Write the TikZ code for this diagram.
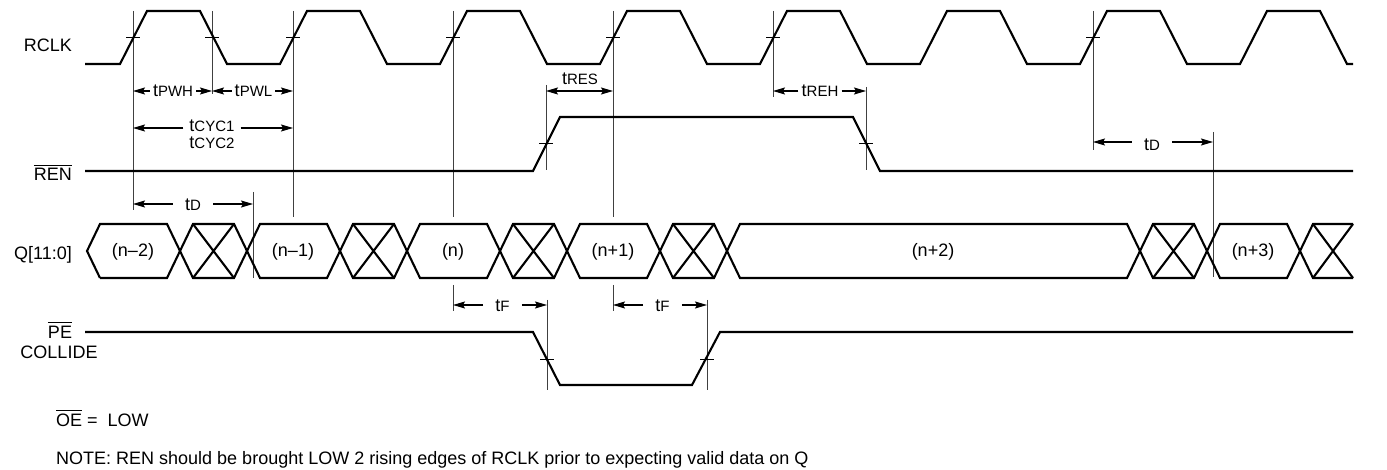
\documentclass[tikz,border=0pt]{standalone}
\usepackage{fontspec}
\setmainfont{Liberation Sans}
\usetikzlibrary{arrows.meta}
\newcommand\ovl[1]{\vbox{\hrule height 0.9pt\kern3pt\hbox{#1}}}
\newcommand\sbs[1]{{\fontsize{15}{15}\selectfont #1}}
\begin{document}
\begin{tikzpicture}[x=1pt,y=-1pt,
  sig/.style={line width=2.1pt,line join=miter},
  guide/.style={line width=0.9pt,black!75},
  tick/.style={line width=1pt},
  dimarrow/.style={line width=1.1pt,-{Stealth[length=12pt,width=7pt,inset=2pt]}},
  dimboth/.style={line width=1.1pt,{Stealth[length=12pt,width=7pt,inset=2pt]}-{Stealth[length=12pt,width=7pt,inset=2pt]}},
  lab/.style={font=\fontsize{18}{21}\selectfont,inner sep=0pt},
  tlab/.style={font=\fontsize{18}{21}\selectfont,inner ysep=0pt,inner xsep=#1},
  tlab/.default=3pt
]
\fill[white] (0,0) rectangle (1387,470);
\useasboundingbox (0,0) rectangle (1387,470);

% ---------- signal labels ----------
\node[lab,anchor=base east] (lclk) at (72,52) {RCLK};
\node[lab,anchor=base east] (lren) at (72,181) {\ovl{REN}};
\node[lab,anchor=base east] (lq) at (72,260) {Q[11:0]};
\node[lab,anchor=base] (lpe) at (60,338) {\ovl{PE}};
\node[lab,anchor=base] (lcol) at (59,358) {COLLIDE};
\node[lab,anchor=base west] (loe) at (56,426) {\ovl{OE} =\ \ LOW};
\node[lab,anchor=base west] (lnote) at (56,464) {NOTE: REN should be brought LOW 2 rising edges of RCLK prior to expecting valid data on Q};

% ---------- guide lines ----------
\draw[guide] (133,11) -- (133,210);
\draw[guide] (212,11) -- (212,94);
\draw[guide] (293,11) -- (293,217);
\draw[guide] (253,192) -- (253,278);
\draw[guide] (453,11) -- (453,217);
\draw[guide] (453,285) -- (453,311);
\draw[guide] (613,11) -- (613,217);
\draw[guide] (613,285) -- (613,311);
\draw[guide] (546,85) -- (546,170);
\draw[guide] (773,11) -- (773,97);
\draw[guide] (866,87) -- (866,170);
\draw[guide] (547,300) -- (547,390);
\draw[guide] (707,300) -- (707,390);
\draw[guide] (1093,11) -- (1093,150);
\draw[guide] (1213,132) -- (1213,277);

% ---------- RCLK ----------
\draw[sig] (85,64) \foreach \k in {0,...,7}{ -- ({120+160*\k},64) -- ({147+160*\k},11) -- ({200+160*\k},11) -- ({227+160*\k},64)} -- (1353,64);
\foreach \x in {133,212,293,453,613,773,1093} \draw[tick] (\x-7,38) -- (\x+7,38);

% ---------- REN ----------
\draw[sig] (85,171) -- (533,171) -- (560,117) -- (853,117) -- (880,171) -- (1353,171);
\foreach \x in {546,866} \draw[tick] (\x-7,144) -- (\x+7,144);

% ---------- Q bus ----------
\draw[sig] (100,278) -- (87,251) -- (100,224) -- (167,224) -- (193,278) -- (234,278) -- (260,224) -- (327,224) -- (353,278) -- (394,278) -- (420,224) -- (487,224) -- (513,278) -- (554,278) -- (580,224) -- (647,224) -- (673,278) -- (714,278) -- (740,224) -- (1127,224) -- (1153,278) -- (1194,278) -- (1220,224) -- (1287,224) -- (1313,278) -- (1353,278);
\draw[sig] (100,278) -- (167,278) -- (193,224) -- (234,224) -- (260,278) -- (327,278) -- (353,224) -- (394,224) -- (420,278) -- (487,278) -- (513,224) -- (554,224) -- (580,278) -- (647,278) -- (673,224) -- (714,224) -- (740,278) -- (1127,278) -- (1153,224) -- (1194,224) -- (1220,278) -- (1287,278) -- (1313,224) -- (1353,224);
\foreach \a/\b in {193/234,353/394,513/554,673/714,1153/1194,1313/1353}
  \draw[sig] (\a,224) -- (\b,278) (\a,278) -- (\b,224);
\node[lab] (qa) at (133,252) {(n–2)};
\node[lab] (qb) at (293,252) {(n–1)};
\node[lab] (qc) at (453,252) {(n)};
\node[lab] (qd) at (613,252) {(n+1)};
\node[lab] (qe) at (933,252) {(n+2)};
\node[lab] (qf) at (1253,252) {(n+3)};

% ---------- PE / COLLIDE ----------
\draw[sig] (85,332) -- (533,332) -- (560,385) -- (692,385) -- (720,332) -- (1353,332);
\foreach \x in {547,707} \draw[tick] (\x-7,359) -- (\x+7,359);

% ---------- timing dimensions ----------
\coordinate (pwhL) at (133,91); \coordinate (pwhR) at (212,91);
\node[tlab] (pwh) at (173,91) {t\sbs{PWH}};
\draw[dimarrow] (pwh.west |- pwhL) -- (pwhL);
\draw[dimarrow] (pwh.east |- pwhR) -- (pwhR);

\coordinate (pwlL) at (212,91); \coordinate (pwlR) at (293,91);
\node[tlab] (pwl) at (253.5,91) {t\sbs{PWL}};
\draw[dimarrow] (pwl.west |- pwlL) -- (pwlL);
\draw[dimarrow] (pwl.east |- pwlR) -- (pwlR);

\coordinate (cycL) at (133,128); \coordinate (cycR) at (293,128);
\node[tlab=6pt,align=center,font=\fontsize{18}{17}\selectfont] (cyc) at (212,134) {t\sbs{CYC1}\\t\sbs{CYC2}};
\draw[dimarrow] (cyc.west |- cycL) -- (cycL);
\draw[dimarrow] (cyc.east |- cycR) -- (cycR);

\coordinate (tdaL) at (133,204); \coordinate (tdaR) at (253,204);
\node[tlab=12pt] (tda) at (193,205) {t\sbs{D}};
\draw[dimarrow] (tda.west |- tdaL) -- (tdaL);
\draw[dimarrow] (tda.east |- tdaR) -- (tdaR);

\coordinate (resL) at (546,91); \coordinate (resR) at (613,91);
\node[tlab,anchor=base] (res) at (580,85) {t\sbs{RES}};
\draw[dimboth] (resL) -- (resR);

\coordinate (rehL) at (773,91); \coordinate (rehR) at (866,91);
\node[tlab] (reh) at (820,91) {t\sbs{REH}};
\draw[dimarrow] (reh.west |- rehL) -- (rehL);
\draw[dimarrow] (reh.east |- rehR) -- (rehR);

\coordinate (tdbL) at (1093,142); \coordinate (tdbR) at (1213,142);
\node[tlab=12pt] (tdb) at (1152,145) {t\sbs{D}};
\draw[dimarrow] (tdb.west |- tdbL) -- (tdbL);
\draw[dimarrow] (tdb.east |- tdbR) -- (tdbR);

\coordinate (tfaL) at (453,305); \coordinate (tfaR) at (547,305);
\node[tlab=12pt] (tfa) at (502.5,305.5) {t\sbs{F}};
\draw[dimarrow] (tfa.west |- tfaL) -- (tfaL);
\draw[dimarrow] (tfa.east |- tfaR) -- (tfaR);

\coordinate (tfbL) at (613,305); \coordinate (tfbR) at (707,305);
\node[tlab=12pt] (tfb) at (662.5,305.5) {t\sbs{F}};
\draw[dimarrow] (tfb.west |- tfbL) -- (tfbL);
\draw[dimarrow] (tfb.east |- tfbR) -- (tfbR);
\end{tikzpicture}
\end{document}
